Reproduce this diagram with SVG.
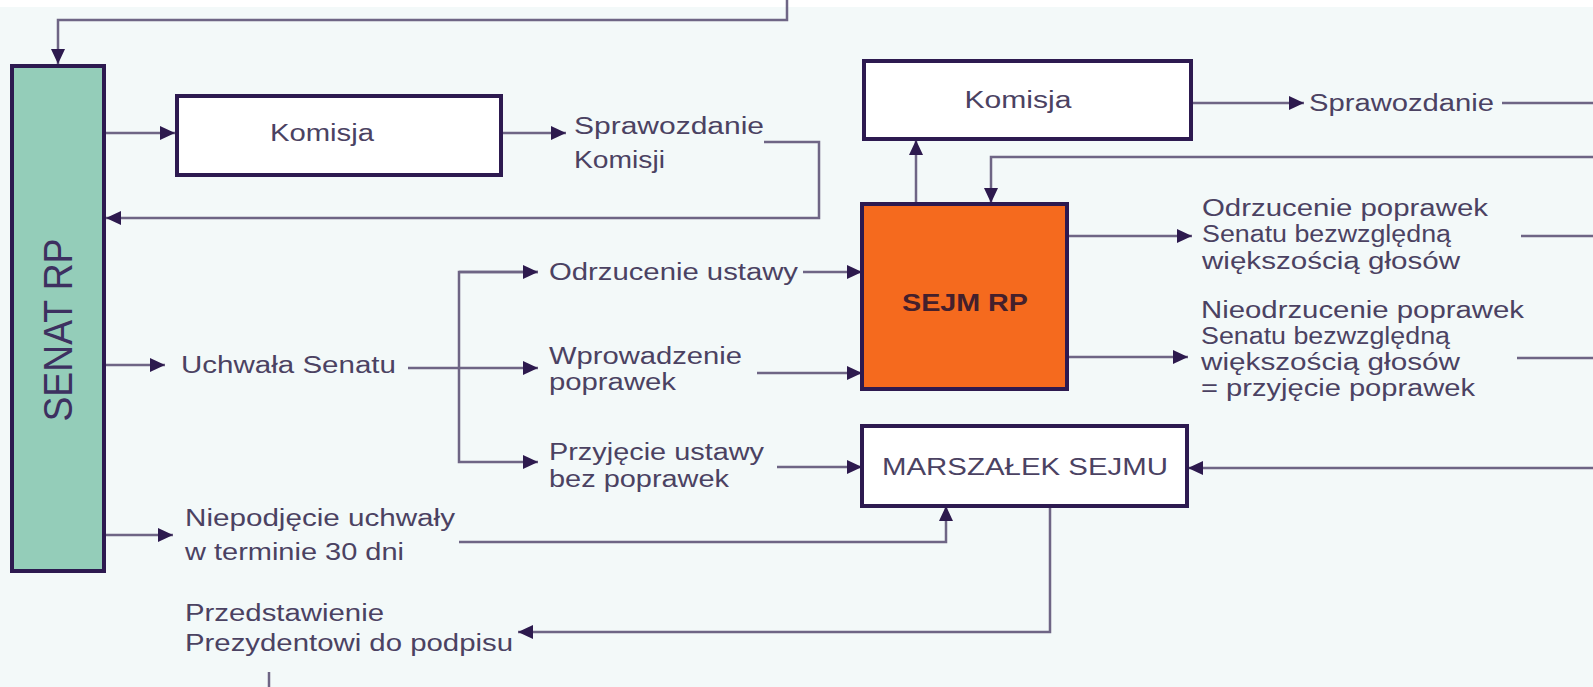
<svg xmlns="http://www.w3.org/2000/svg" width="1593" height="687" viewBox="0 0 1593 687">
<style>
.t{font-family:"Liberation Sans",Arial,sans-serif;font-size:23px;fill:#4b4262}
.box{fill:#ffffff;stroke:#2d1a50;stroke-width:4}
.c{fill:none;stroke:#6e6585;stroke-width:2.5}
</style>
<defs>
<marker id="a" markerUnits="userSpaceOnUse" markerWidth="16" markerHeight="14" refX="15" refY="7" orient="auto">
<path d="M0,0 L15,7 L0,14 z" fill="#2d1a4e"/>
</marker>
</defs>
<rect x="0" y="0" width="1593" height="687" fill="#f3f9f9"/>
<rect x="0" y="0" width="1593" height="7" fill="#ffffff"/>

<g id="connectors">
<path class="c" d="M787,0 V20 H58 V64" marker-end="url(#a)"/>
<path class="c" d="M104,133 H175" marker-end="url(#a)"/>
<path class="c" d="M501,133 H566" marker-end="url(#a)"/>
<path class="c" d="M764,142 H819 V218 H106" marker-end="url(#a)"/>
<path class="c" d="M104,365 H165" marker-end="url(#a)"/>
<path class="c" d="M408,368 H538" marker-end="url(#a)"/>
<path class="c" d="M538,272 H459 V462 H538" marker-end="url(#a)"/>
<path class="c" d="M459,272 H538" marker-end="url(#a)"/>
<path class="c" d="M803,272 H862" marker-end="url(#a)"/>
<path class="c" d="M757,373 H862" marker-end="url(#a)"/>
<path class="c" d="M777,467 H862" marker-end="url(#a)"/>
<path class="c" d="M104,535 H173" marker-end="url(#a)"/>
<path class="c" d="M459,542 H946 V506" marker-end="url(#a)"/>
<path class="c" d="M1050,506 V632 H518" marker-end="url(#a)"/>
<path class="c" d="M269,672 V687"/>
<path class="c" d="M1191,103 H1304" marker-end="url(#a)"/>
<path class="c" d="M1502,103 H1593"/>
<path class="c" d="M1593,157 H991 V203" marker-end="url(#a)"/>
<path class="c" d="M916,204 V140" marker-end="url(#a)"/>
<path class="c" d="M1067,236 H1192" marker-end="url(#a)"/>
<path class="c" d="M1521,236 H1593"/>
<path class="c" d="M1067,357 H1188" marker-end="url(#a)"/>
<path class="c" d="M1517,358 H1593"/>
<path class="c" d="M1593,468 H1188" marker-end="url(#a)"/>
</g>

<g id="senat">
<rect x="12" y="66" width="92" height="505" fill="#94cdb9" stroke="#2d1a50" stroke-width="4"/>
<text class="t" transform="translate(72,330) rotate(-90)" text-anchor="middle" style="font-size:40px;fill:#3d3060" textLength="183" lengthAdjust="spacingAndGlyphs">SENAT RP</text>
</g>

<g id="komisja-senat">
<rect class="box" x="177" y="96" width="324" height="79"/>
<text class="t" x="270" y="141" textLength="104" lengthAdjust="spacingAndGlyphs">Komisja</text>
</g>

<g id="sprawozdanie-komisji">
<text class="t" x="574" y="134" textLength="190" lengthAdjust="spacingAndGlyphs">Sprawozdanie</text>
<text class="t" x="574" y="168" textLength="91" lengthAdjust="spacingAndGlyphs">Komisji</text>
</g>

<g id="uchwala">
<text class="t" x="181" y="373" textLength="215" lengthAdjust="spacingAndGlyphs">Uchwała Senatu</text>
</g>

<g id="odrzucenie-ustawy">
<text class="t" x="549" y="280" textLength="249" lengthAdjust="spacingAndGlyphs">Odrzucenie ustawy</text>
</g>

<g id="wprowadzenie">
<text class="t" x="549" y="364" textLength="193" lengthAdjust="spacingAndGlyphs">Wprowadzenie</text>
<text class="t" x="549" y="390" textLength="127" lengthAdjust="spacingAndGlyphs">poprawek</text>
</g>

<g id="przyjecie">
<text class="t" x="549" y="460" textLength="215" lengthAdjust="spacingAndGlyphs">Przyjęcie ustawy</text>
<text class="t" x="549" y="487" textLength="180" lengthAdjust="spacingAndGlyphs">bez poprawek</text>
</g>

<g id="niepodjecie">
<text class="t" x="185" y="526" textLength="270" lengthAdjust="spacingAndGlyphs">Niepodjęcie uchwały</text>
<text class="t" x="185" y="560" textLength="219" lengthAdjust="spacingAndGlyphs">w terminie 30 dni</text>
</g>

<g id="przedstawienie">
<text class="t" x="185" y="621" textLength="199" lengthAdjust="spacingAndGlyphs">Przedstawienie</text>
<text class="t" x="185" y="651" textLength="328" lengthAdjust="spacingAndGlyphs">Prezydentowi do podpisu</text>
</g>

<g id="komisja-sejm">
<rect class="box" x="864" y="61" width="327" height="78"/>
<text class="t" x="1018" y="108" text-anchor="middle" textLength="107" lengthAdjust="spacingAndGlyphs">Komisja</text>
</g>

<g id="sprawozdanie">
<text class="t" x="1309" y="111" textLength="185" lengthAdjust="spacingAndGlyphs">Sprawozdanie</text>
</g>

<g id="sejm">
<rect x="862" y="204" width="205" height="185" fill="#f56a1e" stroke="#2d1a50" stroke-width="4"/>
<text class="t" x="965" y="311" text-anchor="middle" style="font-weight:bold;font-size:24px;fill:#44202c" textLength="126" lengthAdjust="spacingAndGlyphs">SEJM RP</text>
</g>

<g id="odrzucenie-poprawek">
<text class="t" x="1202" y="216" textLength="286" lengthAdjust="spacingAndGlyphs">Odrzucenie poprawek</text>
<text class="t" x="1202" y="242" textLength="249" lengthAdjust="spacingAndGlyphs">Senatu bezwzględną</text>
<text class="t" x="1202" y="269" textLength="258" lengthAdjust="spacingAndGlyphs">większością głosów</text>
</g>

<g id="nieodrzucenie-poprawek">
<text class="t" x="1201" y="318" textLength="323" lengthAdjust="spacingAndGlyphs">Nieodrzucenie poprawek</text>
<text class="t" x="1201" y="344" textLength="249" lengthAdjust="spacingAndGlyphs">Senatu bezwzględną</text>
<text class="t" x="1201" y="370" textLength="259" lengthAdjust="spacingAndGlyphs">większością głosów</text>
<text class="t" x="1201" y="396" textLength="274" lengthAdjust="spacingAndGlyphs">= przyjęcie poprawek</text>
</g>

<g id="marszalek">
<rect class="box" x="862" y="426" width="325" height="80"/>
<text class="t" x="1025" y="475" text-anchor="middle" textLength="286" lengthAdjust="spacingAndGlyphs">MARSZAŁEK SEJMU</text>
</g>
</svg>
